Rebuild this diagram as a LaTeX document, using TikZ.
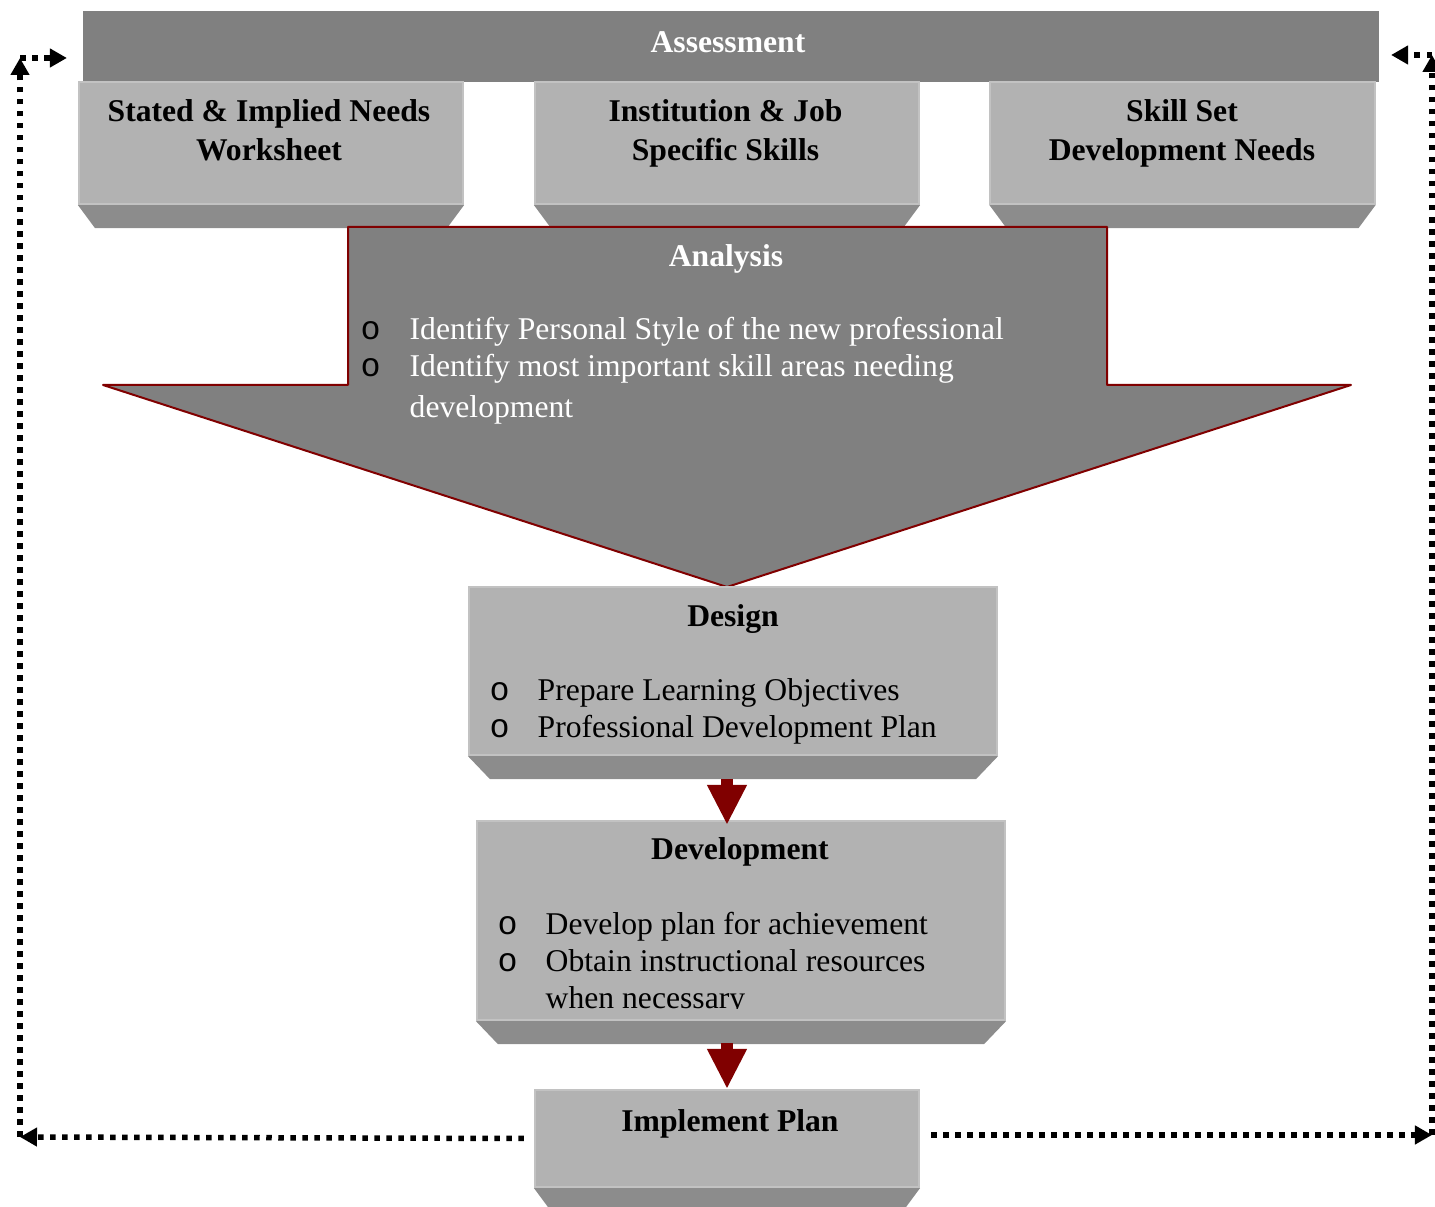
\documentclass[tikz,border=0pt]{standalone}
\usepackage{fontspec}
\setmainfont{Liberation Serif}
\newfontfamily\bulletfont{Liberation Mono}
\usepackage{tikz}
\usetikzlibrary{calc}
\usetikzlibrary{arrows.meta}
\definecolor{barGray}{HTML}{808080}
\definecolor{faceGray}{HTML}{B2B2B2}
\definecolor{bevelGray}{HTML}{8C8C8C}
\definecolor{edgeGray}{HTML}{C2C2C2}
\definecolor{darkRed}{HTML}{800000}
\tikzset{
	face/.style={fill=faceGray,draw=edgeGray,line width=0.02cm,inner sep=0pt},
	bevel/.style={fill=bevelGray},
	title/.style={font=\fontsize{9}{11.2}\selectfont\bfseries,anchor=base,inner sep=0pt,align=center},
	item/.style={font=\fontsize{9}{10.8}\selectfont,anchor=base west,inner sep=0pt},
	bul/.style={font=\fontsize{9.5}{10.8}\selectfont\bulletfont,anchor=base west,inner sep=0pt},
	flow/.style={darkRed,line width=0.12cm,-{Triangle[width=0.37cm,length=0.4cm]}},
	loop/.style={line width=0.055cm,dash pattern=on 0.055cm off 0.065cm,-{Triangle[width=0.18cm,length=0.17cm]}},
}
% bevel under a box: node name, inset
\newcommand{\drawbevel}[2]{\fill[bevel] (#1.south west) -- (#1.south east) -- ++(-#2,23) -- ($(#1.south west)+(#2,23)$) -- cycle;}
\begin{document}
\begin{tikzpicture}[x=0.01cm,y=-0.01cm]
	\useasboundingbox (0,0) rectangle (1435,1207);
	% assessment bar and the three input boxes
	\node[fill=barGray,minimum width=12.96cm,minimum height=0.71cm,inner sep=0pt] (assess) at (731,46.5) {};
	\node[title,white] (assesst) at (728,53) {Assessment};
	\node[face,minimum width=3.84cm,minimum height=1.22cm] (stated) at (271,143) {};
	\node[face,minimum width=3.84cm,minimum height=1.22cm] (inst) at (727,143) {};
	\node[face,minimum width=3.84cm,minimum height=1.22cm] (skill) at (1182.5,143) {};
	\drawbevel{stated}{17}
	\drawbevel{inst}{17}
	\drawbevel{skill}{17}
	\node[title] (statedt) at (269,161) {Stated \& Implied Needs\\Worksheet};
	\node[title] (instt) at (725.5,161) {Institution \& Job\\Specific Skills};
	\node[title] (skillt) at (1182,161) {Skill Set\\Development Needs};
	% analysis arrow
	\filldraw[fill=barGray,draw=darkRed,line width=0.02cm,line join=round]
		(348,227) coordinate (a1) -- (1107,227) coordinate (a2) -- (1107,385) -- (1351,385)
		-- (727,587) coordinate (atip) -- (103,385) -- (348,385) -- cycle;
	\node[title,white] (analt) at (726,267) {Analysis};
	\node[bul] (anb1) at (360,340) {o};
	\node[item,white] (ant1) at (409,340) {Identify Personal Style of the new professional};
	\node[bul] (anb2) at (360,377) {o};
	\node[item,white] (ant2) at (409,377) {Identify most important skill areas needing};
	\node[item,white] (ant3) at (409,418) {development};
	% design
	\node[face,minimum width=5.28cm,minimum height=1.68cm] (design) at (733,671) {};
	\drawbevel{design}{22}
	\node[title] (designt) at (733,627) {Design};
	\node[bul] (dsb1) at (489,701) {o};
	\node[item] (dst1) at (537,701) {Prepare Learning Objectives};
	\node[bul] (dsb2) at (489,738) {o};
	\node[item] (dst2) at (537,738) {Professional Development Plan};
	% development
	\node[face,minimum width=5.28cm,minimum height=1.99cm] (devel) at (741,920.5) {};
	\drawbevel{devel}{22}
	\node[title] (develt) at (740,860) {Development};
	\node[bul] (dvb1) at (497,935) {o};
	\node[item] (dvt1) at (545,935) {Develop plan for achievement};
	\node[bul] (dvb2) at (497,972) {o};
	\node[item] (dvt2) at (545,972) {Obtain instructional resources};
	\begin{scope}
		\clip (540,982) rectangle (1000,1009);
		\node[item] (dvt3) at (545,1009) {when necessary};
	\end{scope}
	% implement
	\node[face,minimum width=3.84cm,minimum height=0.97cm] (impl) at (727,1138.5) {};
	\drawbevel{impl}{17}
	\node[title] (implt) at (730,1132) {Implement Plan};
	% flow arrows
	\coordinate (f1) at (727,779);
	\coordinate (f2) at (727,1043);
	\draw[flow] (f1) -- ([yshift=-0.05cm]f1 |- devel.north);
	\draw[flow] (f2) -- (f2 |- impl.north);
	% feedback loops
	\coordinate (lbot) at (20,1137);
	\coordinate (ltop) at (20,58);
	\coordinate (rbot) at (1432,1135);
	\coordinate (rtop) at (1432,55);
	\draw[loop] ([xshift=-0.1cm]impl.west) -- (lbot);
	\draw[loop] (lbot) -- (ltop);
	\draw[loop] (ltop) -- ([xshift=-0.15cm]assess.west |- ltop);
	\draw[loop] ([xshift=0.11cm]impl.east |- rbot) -- (rbot);
	\draw[loop] (rbot) -- (rtop);
	\draw[loop] (rtop) -- ([xshift=0.11cm]assess.east |- rtop);
\end{tikzpicture}
\end{document}
